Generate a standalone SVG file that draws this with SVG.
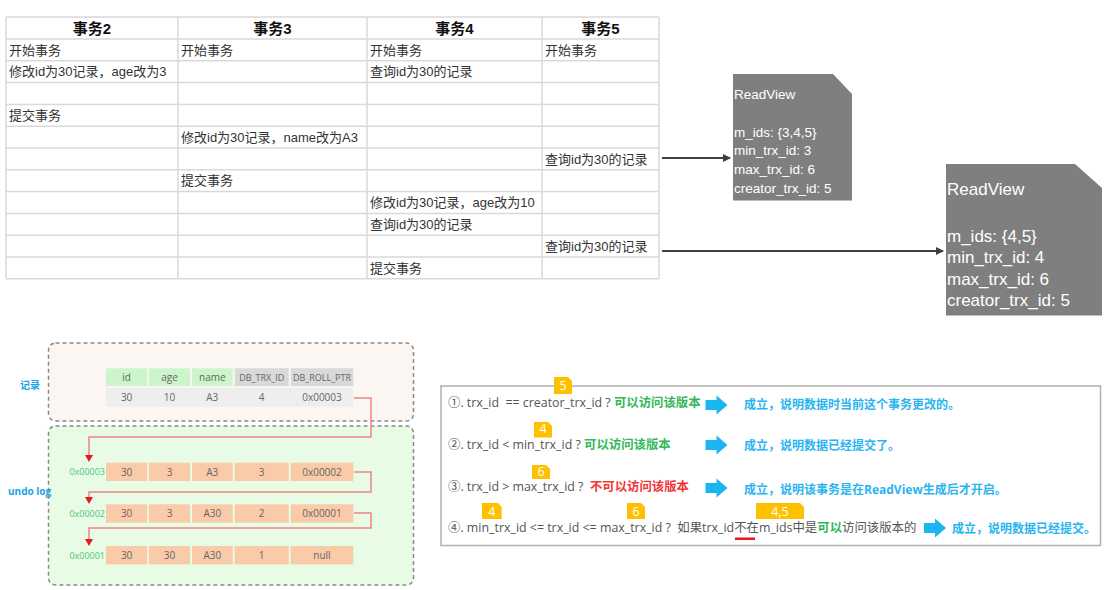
<svg xmlns="http://www.w3.org/2000/svg" width="1112" height="590" viewBox="0 0 1112 590">
<style>
.grid{stroke:#d9d9d9;stroke-width:1.5;fill:none}
.th{font-family:"Liberation Sans","Noto Sans CJK SC",sans-serif;font-weight:bold;font-size:15px;fill:#111;text-anchor:middle}
.td{font-family:"Liberation Sans","Noto Sans CJK SC",sans-serif;font-size:13px;fill:#333}
.rv1{font-family:"Liberation Sans",sans-serif;font-size:13.5px;fill:#fff}
.rv2{font-family:"Liberation Sans",sans-serif;font-size:17px;fill:#fff}
.conn{stroke:#404040;stroke-width:2;fill:none}
.red{stroke:#f08585;stroke-width:1.5;fill:none}
.cellt{font-family:"Open Sans","Noto Sans CJK SC",sans-serif;font-size:10px;fill:#666;text-anchor:middle}
.addr{font-family:"Open Sans",sans-serif;font-size:9px;fill:#4cc87a;text-anchor:end}
.lbl{font-family:"Open Sans","Noto Sans CJK SC",sans-serif;font-size:10px;font-weight:bold;fill:#1aa3e8}
.rule{font-family:"Open Sans","Noto Sans CJK SC",sans-serif;font-size:12.4px;fill:#555;white-space:pre}
.ok{fill:#33b85a;font-weight:bold}
.no{fill:#f23535;font-weight:bold}
.res{font-family:"Open Sans","Noto Sans CJK SC",sans-serif;font-size:12px;fill:#2ab4f0;font-weight:bold}
.badge{fill:#ffc000}
.bt{font-family:"Open Sans",sans-serif;font-size:12.5px;fill:#fff;text-anchor:middle}
.barrow{fill:#1ab6f0}
</style>
<defs>
<marker id="ah" markerWidth="8" markerHeight="8" refX="7" refY="4" orient="auto" markerUnits="userSpaceOnUse">
<path d="M0,0 L8,4 L0,8 Z" fill="#404040"/>
</marker>
<path id="blueArrow" d="M0,-5 L11,-5 L11,-9.5 L22,0 L11,9.5 L11,5 L0,5 Z"/>
</defs>

<g id="table">
<rect x="6" y="17" width="653" height="261.8" fill="#fff"/>
<g class="grid">
<path d="M6,17 H659 M6,39 H659 M6,60.8 H659 M6,82.6 H659 M6,104.4 H659 M6,126.2 H659 M6,148 H659 M6,169.8 H659 M6,191.6 H659 M6,213.4 H659 M6,235.2 H659 M6,257 H659 M6,278.8 H659"/>
<path d="M6,17 V278.8 M178,17 V278.8 M367,17 V278.8 M542,17 V278.8 M659,17 V278.8"/>
</g>
<text class="th" x="92" y="34">事务2</text>
<text class="th" x="272.5" y="34">事务3</text>
<text class="th" x="454.5" y="34">事务4</text>
<text class="th" x="600.5" y="34">事务5</text>
<text class="td" x="9" y="54.5">开始事务</text>
<text class="td" x="181" y="54.5">开始事务</text>
<text class="td" x="370" y="54.5">开始事务</text>
<text class="td" x="545" y="54.5">开始事务</text>
<text class="td" x="9" y="76.3">修改id为30记录，age改为3</text>
<text class="td" x="370" y="76.3">查询id为30的记录</text>
<text class="td" x="9" y="119.9">提交事务</text>
<text class="td" x="181" y="141.7">修改id为30记录，name改为A3</text>
<text class="td" x="545" y="163.5">查询id为30的记录</text>
<text class="td" x="181" y="185.3">提交事务</text>
<text class="td" x="370" y="207.1">修改id为30记录，age改为10</text>
<text class="td" x="370" y="228.9">查询id为30的记录</text>
<text class="td" x="545" y="250.7">查询id为30的记录</text>
<text class="td" x="370" y="272.5">提交事务</text>
</g>

<g id="readview1">
<path d="M733,74 H833 L852,94 V200.5 H733 Z" fill="#7f7f7f"/>
<text class="rv1" x="734" y="99">ReadView</text>
<text class="rv1" x="734" y="136.5">m_ids: {3,4,5}</text>
<text class="rv1" x="734" y="155">min_trx_id: 3</text>
<text class="rv1" x="734" y="174">max_trx_id: 6</text>
<text class="rv1" x="734" y="193">creator_trx_id: 5</text>
</g>

<g id="readview2">
<path d="M946,164 H1075 L1102,188 V315.5 H946 Z" fill="#7f7f7f"/>
<text class="rv2" x="947" y="195">ReadView</text>
<text class="rv2" x="947" y="241.5">m_ids: {4,5}</text>
<text class="rv2" x="947" y="263">min_trx_id: 4</text>
<text class="rv2" x="947" y="284.5">max_trx_id: 6</text>
<text class="rv2" x="947" y="306">creator_trx_id: 5</text>
</g>

<g id="connectors">
<path class="conn" d="M662,158 H730" marker-end="url(#ah)"/>
<path class="conn" d="M662,251 H943" marker-end="url(#ah)"/>
</g>

<g id="record">
<rect x="48.5" y="343" width="365" height="78" rx="7" fill="#fcf6f2" stroke="#8a8a8a" stroke-width="1.5" stroke-dasharray="4,3"/>
<text class="lbl" x="20" y="389">记录</text>
<rect x="106" y="368.3" width="41.3" height="17.7" fill="#ccf5cc"/>
<rect x="149" y="368.3" width="41" height="17.7" fill="#ccf5cc"/>
<rect x="192" y="368.3" width="40.7" height="17.7" fill="#ccf5cc"/>
<rect x="234.7" y="368.3" width="54" height="17.7" fill="#d9d9d9"/>
<rect x="290.7" y="368.3" width="62.6" height="17.7" fill="#d9d9d9"/>
<text class="cellt" x="126.6" y="381">id</text>
<text class="cellt" x="169.5" y="381">age</text>
<text class="cellt" x="212.3" y="381">name</text>
<text class="cellt" x="261.7" y="381" style="font-size:9px">DB_TRX_ID</text>
<text class="cellt" x="322" y="381" style="font-size:9px">DB_ROLL_PTR</text>
<rect x="106" y="387.7" width="247.3" height="19" fill="#eeeeee"/>
<text class="cellt" x="126.6" y="400.5">30</text>
<text class="cellt" x="169.5" y="400.5">10</text>
<text class="cellt" x="212.3" y="400.5">A3</text>
<text class="cellt" x="261.7" y="400.5">4</text>
<text class="cellt" x="322" y="400.5">0x00003</text>
</g>

<g id="undolog">
<rect x="48.5" y="426" width="365" height="159" rx="7" fill="#e8fbe4" stroke="#8a8a8a" stroke-width="1.5" stroke-dasharray="4,3"/>
<text class="lbl" x="8" y="495">undo log</text>
<g fill="#f9cba8">
<rect x="106" y="462.7" width="41.3" height="18.3"/><rect x="149" y="462.7" width="41" height="18.3"/><rect x="192" y="462.7" width="40.7" height="18.3"/><rect x="234.7" y="462.7" width="54" height="18.3"/><rect x="290.7" y="462.7" width="62.6" height="18.3"/>
<rect x="106" y="504.3" width="41.3" height="18.3"/><rect x="149" y="504.3" width="41" height="18.3"/><rect x="192" y="504.3" width="40.7" height="18.3"/><rect x="234.7" y="504.3" width="54" height="18.3"/><rect x="290.7" y="504.3" width="62.6" height="18.3"/>
<rect x="106" y="546" width="41.3" height="18.3"/><rect x="149" y="546" width="41" height="18.3"/><rect x="192" y="546" width="40.7" height="18.3"/><rect x="234.7" y="546" width="54" height="18.3"/><rect x="290.7" y="546" width="62.6" height="18.3"/>
</g>
<text class="addr" x="105" y="475">0x00003</text>
<text class="cellt" x="126.6" y="475.5">30</text><text class="cellt" x="169.5" y="475.5">3</text><text class="cellt" x="212.3" y="475.5">A3</text><text class="cellt" x="261.7" y="475.5">3</text><text class="cellt" x="322" y="475.5">0x00002</text>
<text class="addr" x="105" y="516.5">0x00002</text>
<text class="cellt" x="126.6" y="517">30</text><text class="cellt" x="169.5" y="517">3</text><text class="cellt" x="212.3" y="517">A30</text><text class="cellt" x="261.7" y="517">2</text><text class="cellt" x="322" y="517">0x00001</text>
<text class="addr" x="105" y="558.5">0x00001</text>
<text class="cellt" x="126.6" y="559">30</text><text class="cellt" x="169.5" y="559">30</text><text class="cellt" x="212.3" y="559">A30</text><text class="cellt" x="261.7" y="559">1</text><text class="cellt" x="322" y="559">null</text>
</g>

<g id="undo-connectors">
<path class="red" d="M354,398 H371 V437 H89 V456"/>
<path class="red" d="M354,472 H371 V492 H89 V498"/>
<path class="red" d="M354,513 H371 V528 H89 V540"/>
<path d="M85,455 H93 L89,462 Z" fill="#e8191c"/>
<path d="M85,497 H93 L89,504 Z" fill="#e8191c"/>
<path d="M85,539 H93 L89,546 Z" fill="#e8191c"/>
</g>

<g id="rules">
<rect x="441" y="386" width="659.5" height="159.5" fill="#fff" stroke="#b0b0b0" stroke-width="1.5"/>
<text class="rule" x="448" y="406.5">①. trx_id  == creator_trx_id ? <tspan class="ok">可以访问该版本</tspan></text>
<use href="#blueArrow" class="barrow" x="705.5" y="405"/>
<text class="res" x="744" y="408.5">成立，说明数据时当前这个事务更改的。</text>

<text class="rule" x="448" y="449">②. trx_id &lt; min_trx_id ? <tspan class="ok">可以访问该版本</tspan></text>
<use href="#blueArrow" class="barrow" x="705.5" y="445"/>
<text class="res" x="744" y="449.5">成立，说明数据已经提交了。</text>

<text class="rule" x="448" y="491">③. trx_id &gt; max_trx_id ?  <tspan class="no">不可以访问该版本</tspan></text>
<use href="#blueArrow" class="barrow" x="705.5" y="488"/>
<text class="res" x="744" y="493.5">成立，说明该事务是在ReadView生成后才开启。</text>

<text class="rule" x="448" y="532">④. min_trx_id &lt;= trx_id &lt;= max_trx_id ?  如果trx_id不在m_ids中是<tspan class="ok">可以</tspan>访问该版本的</text>
<rect x="735" y="537.5" width="20" height="2.5" fill="#e8191c"/>
<use href="#blueArrow" class="barrow" x="924" y="528"/>
<text class="res" x="952" y="532.5">成立，说明数据已经提交。</text>

<path class="badge" d="M554,377 H568 L572,381 V394 H554 Z"/><text class="bt" x="563" y="389.5">5</text>
<path class="badge" d="M534,422 H548 L552,426 V437.5 H534 Z"/><text class="bt" x="543" y="433">4</text>
<path class="badge" d="M532,465 H546 L550,469 V479 H532 Z"/><text class="bt" x="541" y="475.5">6</text>
<path class="badge" d="M482,503 H497.7 L501.7,507 V519 H482 Z"/><text class="bt" x="491.8" y="515.5">4</text>
<path class="badge" d="M627,503 H641 L645,507 V519 H627 Z"/><text class="bt" x="636" y="515.5">6</text>
<path class="badge" d="M756,503 H800 L804,507 V519 H756 Z"/><text class="bt" x="780" y="515.5">4,5</text>
</g>
</svg>
